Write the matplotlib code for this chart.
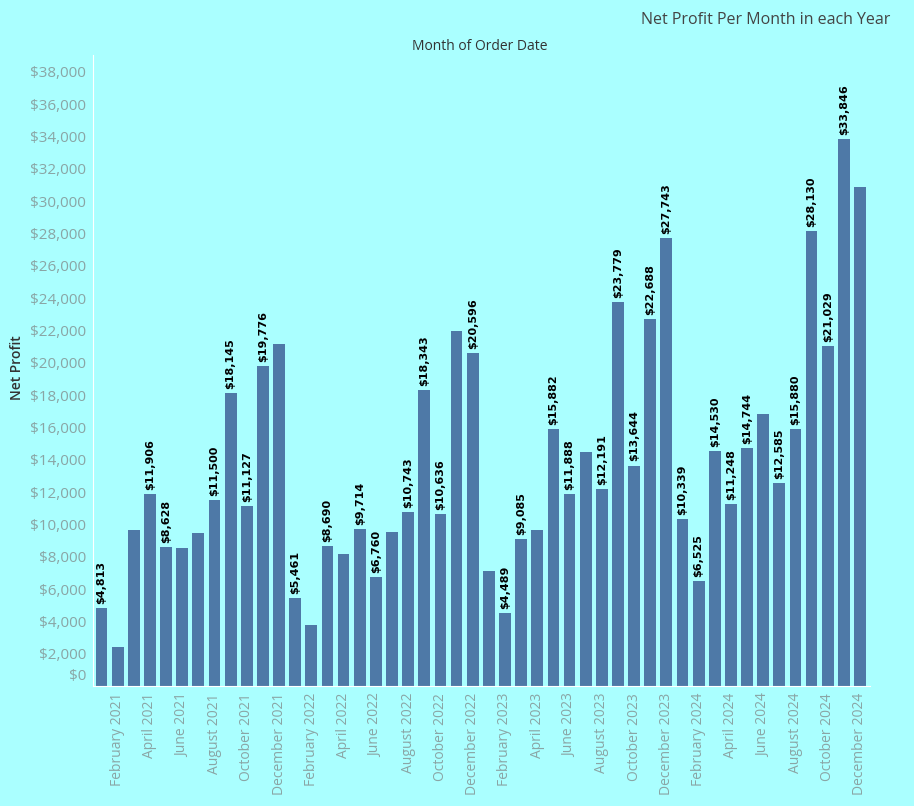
import matplotlib.pyplot as plt
from matplotlib.ticker import FuncFormatter

months = ["January", "February", "March", "April", "May", "June", "July",
          "August", "September", "October", "November", "December"]
years = [2021, 2022, 2023, 2024]
month_labels = [f"{m} {y}" for y in years for m in months]

profit = [4813, 2390, 9650, 11906, 8628, 8520, 9470, 11500, 18145, 11127, 19776, 21160,
          5461, 3770, 8690, 8170, 9714, 6760, 9550, 10743, 18343, 10636, 21970, 20596,
          7120, 4489, 9085, 9650, 15882, 11888, 14460, 12191, 23779, 13644, 22688, 27743,
          10339, 6525, 14530, 11248, 14744, 16810, 12585, 15880, 28130, 21029, 33846, 30900]
show_label = [1, 0, 0, 1, 1, 0, 0, 1, 1, 1, 1, 0,
              1, 0, 1, 0, 1, 1, 0, 1, 1, 1, 0, 1,
              0, 1, 1, 0, 1, 1, 0, 1, 1, 1, 1, 1,
              1, 1, 1, 1, 1, 0, 1, 1, 1, 1, 1, 0]

bg = "#aaffff"
bar_col = "#4e79a7"
tick_col = "#8aa5a5"
plt.rcParams['font.family'] = ['Open Sans', 'DejaVu Sans']

fig = plt.figure(figsize=(9.14, 8.06), dpi=100, facecolor=bg)
ax = fig.add_axes([93/914, 1-686/806, (870-93)/914, 631/806], facecolor=bg)

x = list(range(len(profit)))
ax.bar(x, profit, width=0.73, color=bar_col, zorder=2)
for i, v in enumerate(profit):
    if show_label[i]:
        ax.text(i, v + 250, f"${v:,}", rotation=90, ha='center', va='bottom',
                fontsize=8, fontweight='bold', color='black', family='DejaVu Sans')

ax.set_xlim(-0.53, 47.62)
ax.set_ylim(0, 39050)
ax.set_yticks(range(0, 38001, 2000))
ax.yaxis.set_major_formatter(FuncFormatter(lambda v, p: f"${int(v):,}" if v > 0 else ""))
ax.tick_params(axis='y', length=0, labelsize=11, labelcolor=tick_col, pad=5)
# Tableau nudges the bottom label up inside the pane
ax.annotate("$0", xy=(0, 0), xycoords=('axes fraction', 'data'), xytext=(-5, 7),
            textcoords='offset points', ha='right', va='center', fontsize=11, color=tick_col)

ax.set_xticks(x[1::2])
ax.set_xticklabels(month_labels[1::2], rotation=90)
ax.tick_params(axis='x', length=0, labelsize=10, labelcolor=tick_col, pad=5)

for s in ['top', 'right']:
    ax.spines[s].set_visible(False)
ax.spines['left'].set_color('white')
ax.spines['bottom'].set_color('white')
ax.spines['left'].set_linewidth(0.8)
ax.spines['bottom'].set_linewidth(0.8)

ax.set_ylabel("Net Profit", fontsize=10, color="#333333", fontweight='semibold')
ax.yaxis.set_label_coords(-0.089, 0.504)

fig.text(766/914, 1-20/806, "Net Profit Per Month in each Year", ha='center', va='center',
         fontsize=11.5, color="#444444", fontweight='medium')
fig.text(480/914, 1-46/806, "Month of Order Date", ha='center', va='center',
         fontsize=10, color="#333333", fontweight='medium')

fig.savefig("out.png", dpi=100, facecolor=bg)
